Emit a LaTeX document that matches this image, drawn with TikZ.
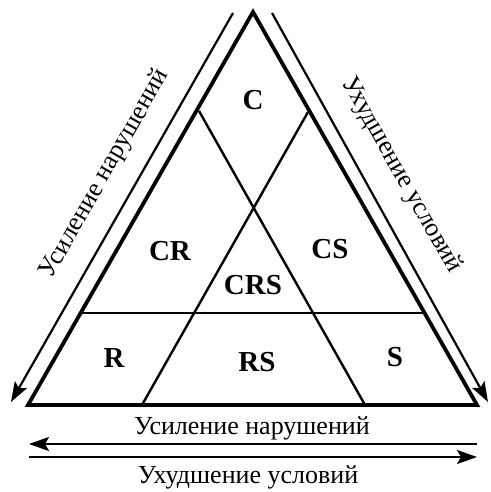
\documentclass[tikz,border=0pt]{standalone}
\usepackage{fontspec}
\setmainfont{Liberation Serif}
\usetikzlibrary{arrows.meta}
\begin{document}
\begin{tikzpicture}[x=1pt,y=-1pt,
  frame/.style={line width=3.8pt,line join=miter},
  inner/.style={line width=2.4pt},
  arr/.style={line width=2.2pt,-{Stealth[length=20pt,width=14pt,inset=4pt]}},
  lab/.style={font=\bfseries\fontsize{29}{29}\selectfont,inner sep=0pt},
  txt/.style={font=\fontsize{26}{26}\selectfont,inner sep=0pt}]
\useasboundingbox (0,0) rectangle (490,492);
% triangle corners
\coordinate (A) at (28,405);
\coordinate (B) at (477,405);
\coordinate (T) at (253,12);
% inner points
\coordinate (L1) at (80.7,313);
\coordinate (R1) at (424.6,313);
\coordinate (P1) at (199,111);
\coordinate (Q1) at (365,405);
\coordinate (P2) at (308,112);
\coordinate (Q2) at (142,405);
\draw[frame] (A) -- (T) -- (B) -- cycle;
\draw[inner] (L1) -- (R1);
\draw[inner] (P1) -- (Q1);
\draw[inner] (P2) -- (Q2);
% side arrows
\coordinate (la1) at (233,13);
\coordinate (la2) at (11,402);
\coordinate (ra1) at (272,13);
\coordinate (ra2) at (488,402);
\draw[arr] (la1) -- (la2);
\draw[arr] (ra1) -- (ra2);
% bottom arrows
\coordinate (b1r) at (477,444);
\coordinate (b1l) at (29,444);
\coordinate (b2l) at (29,457);
\coordinate (b2r) at (477,457);
\draw[arr] (b1r) -- (b1l);
\draw[arr] (b2l) -- (b2r);
% labels
\node[lab] (nC) at (253,100) {C};
\node[lab] (nCR) at (170,251) {CR};
\node[lab] (nCS) at (330,249) {CS};
\node[lab] (nCRS) at (253,285) {CRS};
\node[lab] (nR) at (114,358) {R};
\node[lab] (nRS) at (257,362) {RS};
\node[lab] (nS) at (395,357) {S};
% texts
\node[txt] (t1) at (252,428) {Усиление нарушений};
\node[txt] (t2) at (248,477) {Ухудшение условий};
\node[txt,rotate=60.3] (t3) at (105,174) {Усиление нарушений};
\node[txt,rotate=-60.5] (t4) at (401,175) {Ухудшение условий};
\end{tikzpicture}
\end{document}
